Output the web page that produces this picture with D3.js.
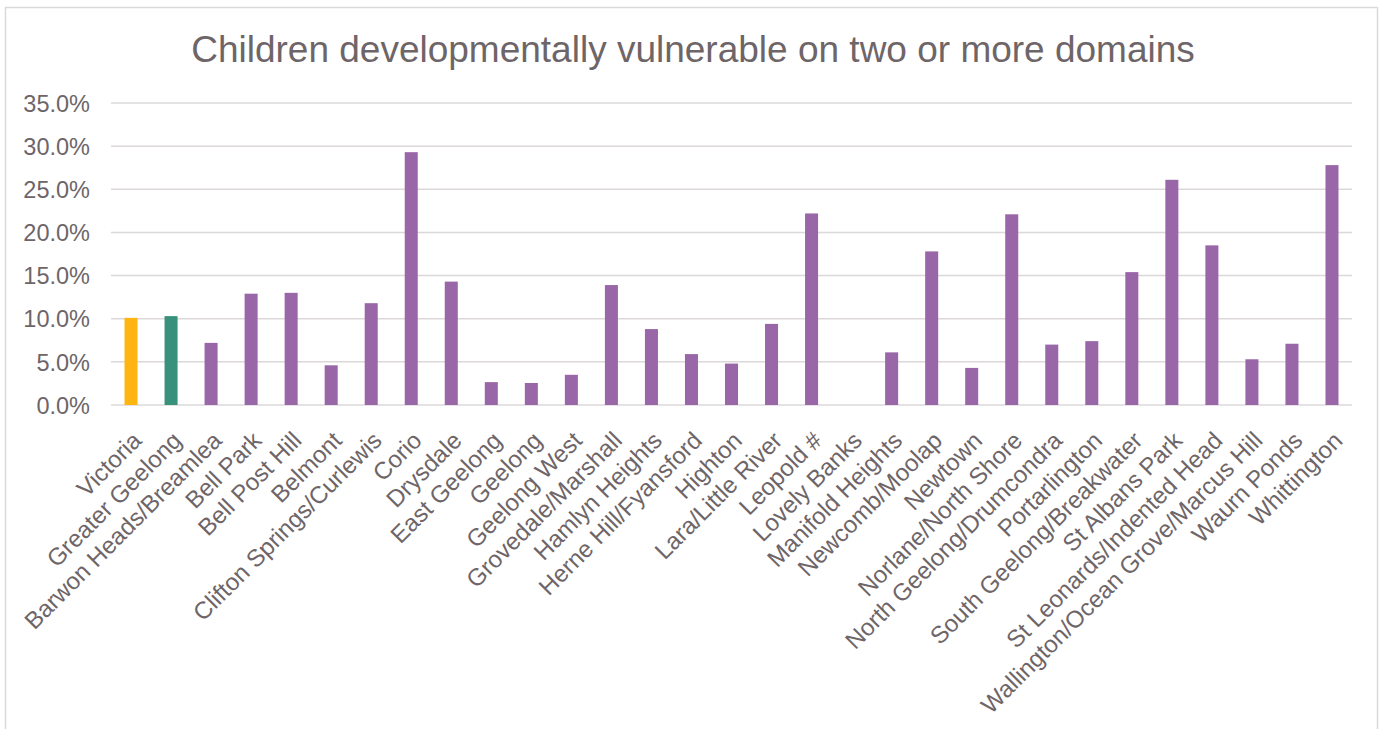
<!DOCTYPE html>
<html>
<head>
<meta charset="utf-8">
<script src="https://cdn.jsdelivr.net/npm/d3@7"></script>
<style>
  body { margin: 0; background: #fff; }
  svg text { font-family: "Liberation Sans", Arial, sans-serif; fill: #6e6568; }
</style>
</head>
<body>
<script>
// data
var areas = ["Victoria", "Greater Geelong", "Barwon Heads/Breamlea", "Bell Park", "Bell Post Hill",
  "Belmont", "Clifton Springs/Curlewis", "Corio", "Drysdale", "East Geelong", "Geelong",
  "Geelong West", "Grovedale/Marshall", "Hamlyn Heights", "Herne Hill/Fyansford", "Highton",
  "Lara/Little River", "Leopold #", "Lovely Banks", "Manifold Heights", "Newcomb/Moolap",
  "Newtown", "Norlane/North Shore", "North Geelong/Drumcondra", "Portarlington",
  "South Geelong/Breakwater", "St Albans Park", "St Leonards/Indented Head",
  "Wallington/Ocean Grove/Marcus Hill", "Waurn Ponds", "Whittington"];
var vulnerable = [10.1, 10.3, 7.2, 12.9, 13.0, 4.6, 11.8, 29.3, 14.3, 2.65, 2.55,
  3.5, 13.9, 8.8, 5.9, 4.8, 9.4, 22.2, null, 6.1, 17.8,
  4.3, 22.1, 7.0, 7.4, 15.4, 26.1, 18.5, 5.3, 7.1, 27.8];
var yTicks = [0, 5, 10, 15, 20, 25, 30, 35];
var title = "Children developmentally vulnerable on two or more domains";

var width = 1386, height = 729;
var margin = {top: 103, left: 111, right: 34, bottom: 324};

var svg = d3.select("body").append("svg")
    .attr("width", width)
    .attr("height", height);

//chart frame
svg.append("rect")
    .attr("x", 5.5).attr("y", 7.5)
    .attr("width", 1372).attr("height", 740)
    .attr("fill", "none")
    .attr("stroke", "#d9d9d9")
    .attr("stroke-width", 1.5);

svg.append("text")
    .attr("x", width / 2)
    .attr("y", 62)
    .attr("text-anchor", "middle")
    .style("font-size", "37px")
    .text(title);

var x = d3.scaleBand()
    .domain(areas)
    .range([margin.left, width - margin.right])
    .paddingInner(0.675)
    .paddingOuter(0.3375);

var y = d3.scaleLinear()
    .domain([0, 35])
    .range([height - margin.bottom, margin.top]);

//gridlines
svg.append("g").selectAll("line")
    .data(yTicks)
    .enter()
    .append("line")
    .attr("x1", margin.left)
    .attr("x2", width - margin.right)
    .attr("y1", function (d) { return y(d) })
    .attr("y2", function (d) { return y(d) })
    .attr("stroke", "#dcd8da")
    .attr("stroke-width", 1.5);

//y axis labels
var yAxis = d3.axisLeft(y)
    .tickValues(yTicks)
    .tickSize(0)
    .tickPadding(21)
    .tickFormat(function (d) { return d.toFixed(1) + "%" });

var yg = svg.append("g")
    .attr("transform", "translate(" + margin.left + ",0)")
    .call(yAxis);
yg.select(".domain").remove();
yg.selectAll("text")
    .style("font-size", "23.5px")
    .attr("dy", "0.35em");

//bars (first two are the reference areas)
function barColor(i) {
    if (i === 0) return "#ffb511";
    if (i === 1) return "#37917b";
    return "#9966a8";
}

var barIdx = d3.range(areas.length).filter(function (i) { return vulnerable[i] !== null });

svg.append("g").selectAll("rect")
    .data(barIdx)
    .enter()
    .append("rect")
    .attr("x", function (i) { return x(areas[i]) })
    .attr("y", function (i) { return y(vulnerable[i]) })
    .attr("width", x.bandwidth())
    .attr("height", function (i) { return y(0) - y(vulnerable[i]) })
    .attr("fill", function (i) { return barColor(i) });

//x labels, rotated
svg.append("g").selectAll("text")
    .data(areas)
    .enter()
    .append("text")
    .attr("text-anchor", "end")
    .attr("transform", function (d) {
        var cx = x(d) + x.bandwidth() / 2 + 12;
        return "translate(" + cx + "," + (y(0) + 37) + ") rotate(-45)";
    })
    .style("font-size", "24px")
    .text(function (d) { return d });
</script>
</body>
</html>
